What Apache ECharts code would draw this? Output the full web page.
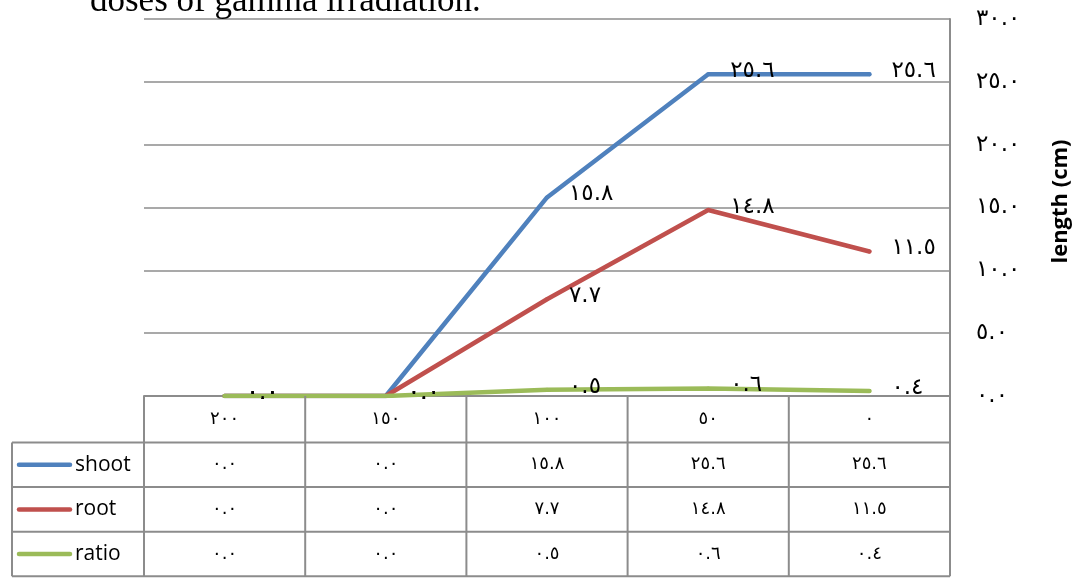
<!DOCTYPE html>
<html>
<head>
<meta charset="utf-8">
<script src="https://cdn.jsdelivr.net/npm/echarts@6/dist/echarts.min.js"></script>
<style>
  html, body { margin: 0; padding: 0; background: #fff; }
  #chart { width: 1080px; height: 578px; }
</style>
</head>
<body>
<div id="chart"></div>
<script>
// Gamma dose (Gy), in display order from left to right
const doses = [200, 150, 100, 50, 0];
// Lengths (cm) per dose
const shoot = [0.0, 0.0, 15.8, 25.6, 25.6];
const root  = [0.0, 0.0, 7.7, 14.8, 11.5];
const ratio = [0.0, 0.0, 0.5, 0.6, 0.4];
const seriesNames = ['shoot', 'root', 'ratio'];
const yTicks = [0, 5, 10, 15, 20, 25, 30];
const titleText = 'doses of gamma irradiation.';
const axisTitle = 'length (cm)';

const COLORS = ['#4F81BD', '#C0504D', '#9BBB59'];
const GRID_GRAY = '#8C8C8C';
const NUM_FONT = '"DejaVu Sans"';

// Arabic-Indic digits with a plain dot as decimal mark
const AR_DIGITS = '٠١٢٣٤٥٦٧٨٩';
function toArabic(s) { return String(s).replace(/[0-9]/g, d => AR_DIGITS[+d]); }
function fmt1(v) { return toArabic(Number(v).toFixed(1)); }

const allSeries = [shoot, root, ratio];

const chart = echarts.init(document.getElementById('chart'), null, { renderer: 'canvas' });

const option = {
  animation: false,
  backgroundColor: '#fff',
  grid: { left: 144, right: 128, top: 19, bottom: 182, containLabel: false },
  xAxis: {
    type: 'category',
    data: doses.map(String),
    boundaryGap: true,
    axisLine: { show: true, lineStyle: { color: GRID_GRAY, width: 2 } },
    axisTick: { show: false },
    axisLabel: { show: false },
    splitLine: { show: false }
  },
  yAxis: {
    type: 'value',
    position: 'right',
    min: yTicks[0],
    max: yTicks[yTicks.length - 1],
    interval: yTicks[1] - yTicks[0],
    name: axisTitle,
    nameLocation: 'middle',
    nameRotate: 90,
    nameGap: 100,
    nameTextStyle: { fontFamily: '"Open Sans"', fontWeight: 'bold', fontSize: 22, color: '#000', padding: [0, 0, 0, 12] },
    axisLine: { show: true, lineStyle: { color: GRID_GRAY, width: 2 } },
    axisTick: { show: false },
    axisLabel: {
      margin: 26,
      fontFamily: NUM_FONT,
      fontSize: 23,
      color: '#000',
      formatter: v => fmt1(v)
    },
    splitLine: { show: true, lineStyle: { color: GRID_GRAY, width: 1.5 } }
  },
  series: seriesNames.map((name, i) => ({
    name: name,
    type: 'line',
    data: allSeries[i],
    symbol: 'circle',
    symbolSize: 4,
    itemStyle: { color: COLORS[i] },
    lineStyle: { color: COLORS[i], width: 4.5, cap: 'round', join: 'round' },
    label: {
      show: true,
      position: 'right',
      distance: 20,
      offset: [0, -3],
      fontFamily: NUM_FONT,
      fontSize: 23,
      color: '#000',
      formatter: p => fmt1(p.value)
    },
    z: 2 + i
  }))
};

chart.setOption(option);

// Data table under the plot, laid out from the category axis positions
function buildTable() {
  const centers = doses.map((d, i) => chart.convertToPixel({ xAxisIndex: 0 }, i));
  const half = (centers[1] - centers[0]) / 2;
  const left = centers[0] - half;
  const right = centers[centers.length - 1] + half;
  const yBase = chart.convertToPixel({ yAxisIndex: 0 }, 0);
  const headerH = 46.5;
  const rowH = 44.6;
  const legendLeft = 12;
  const rowTops = [yBase + headerH];
  for (let r = 1; r <= seriesNames.length; r++) rowTops.push(yBase + headerH + rowH * r);
  const bottom = rowTops[rowTops.length - 1];

  const els = [];
  const line = (x1, y1, x2, y2) => els.push({
    type: 'line', silent: true, z: 10,
    shape: { x1, y1, x2, y2 },
    style: { stroke: GRID_GRAY, lineWidth: 2 }
  });
  const text = (t, x, y, font, align) => els.push({
    type: 'text', silent: true, z: 11,
    style: { text: t, x, y, font, fill: '#000', align: align || 'center', verticalAlign: 'middle' }
  });

  // horizontal rules
  rowTops.forEach(y => line(legendLeft, y, right, y));
  // vertical rules
  line(legendLeft, rowTops[0], legendLeft, bottom);
  for (let i = 0; i <= doses.length; i++) {
    const x = left + 2 * half * i;
    line(x, yBase, x, bottom);
  }

  // header row: doses
  doses.forEach((d, i) => text(toArabic(d), centers[i], yBase + headerH / 2, '18px ' + NUM_FONT));

  // series rows: legend key + values
  seriesNames.forEach((name, r) => {
    const cy = rowTops[r] + rowH / 2;
    els.push({
      type: 'line', silent: true, z: 11,
      shape: { x1: legendLeft + 7, y1: cy, x2: legendLeft + 58, y2: cy },
      style: { stroke: COLORS[r], lineWidth: 4.5, lineCap: 'round' }
    });
    text(name, legendLeft + 63, cy, '21px "Open Sans"', 'left');
    allSeries[r].forEach((v, i) => text(fmt1(v), centers[i], cy, '18px ' + NUM_FONT));
  });

  // heading line above the chart
  els.push({
    type: 'text', silent: true, z: 11,
    style: { text: titleText, x: 90, y: 2, font: '35px "Liberation Serif"', fill: '#000', align: 'left', verticalAlign: 'middle' }
  });

  chart.setOption({ graphic: { elements: els } });
}

buildTable();
</script>
</body>
</html>
